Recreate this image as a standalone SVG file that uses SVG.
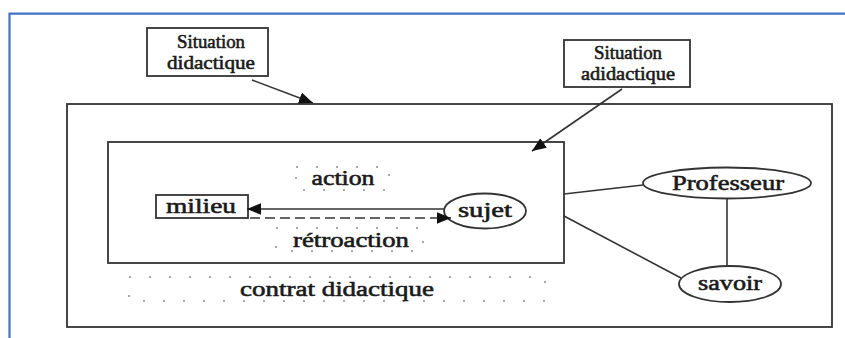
<svg xmlns="http://www.w3.org/2000/svg" width="845" height="338" viewBox="0 0 845 338">
<defs>
<style>
.box{fill:#fff;stroke:#333;stroke-width:1.8}
.dot{fill:none;stroke:#a8a8a8;stroke-width:2;stroke-dasharray:2 18}
.ln{fill:none;stroke:#333;stroke-width:1.6}
.dash{fill:none;stroke:#666;stroke-width:2;stroke-dasharray:10 5}
text{font-family:"Liberation Serif","Times New Roman",serif;font-size:20px;font-weight:normal;fill:#1a1a1a;stroke:#1a1a1a;stroke-width:0.55;text-anchor:middle}
.top{font-size:18px}
</style>
<marker id="ah" viewBox="0 0 12 10" refX="12" refY="5" markerWidth="14" markerHeight="12" markerUnits="userSpaceOnUse" orient="auto">
<path d="M0,0 L12,5 L0,10 Z" fill="#111"/>
</marker>
</defs>
<rect width="845" height="338" fill="#fff"/>
<path d="M9.5,338 V13.7 H845" fill="none" stroke="#4472C4" stroke-width="2.2"/>

<g id="outer"><rect class="box" x="67" y="104" width="765" height="223"/></g>
<g id="inner"><rect class="box" x="108" y="142" width="456" height="121"/></g>

<g id="contrat">
<rect class="dot" x="129" y="277" width="416" height="24"/>
<text x="337" y="296" textLength="194" lengthAdjust="spacingAndGlyphs">contrat didactique</text>
</g>

<g id="action">
<rect class="dot" x="296" y="167" width="93" height="23"/>
<text x="343" y="185" textLength="63" lengthAdjust="spacingAndGlyphs">action</text>
</g>

<g id="retroaction">
<rect class="dot" x="276" y="228" width="147" height="23"/>
<text x="351" y="247" textLength="116" lengthAdjust="spacingAndGlyphs">rétroaction</text>
</g>

<g id="sit-didactique">
<rect class="box" x="147" y="28" width="121" height="48"/>
<text class="top" x="211" y="48" textLength="68" lengthAdjust="spacingAndGlyphs">Situation</text>
<text class="top" x="211" y="69" textLength="88" lengthAdjust="spacingAndGlyphs">didactique</text>
</g>

<g id="sit-adidactique">
<rect class="box" x="564" y="40" width="126" height="47"/>
<text class="top" x="628" y="59" textLength="68" lengthAdjust="spacingAndGlyphs">Situation</text>
<text class="top" x="628" y="80" textLength="94" lengthAdjust="spacingAndGlyphs">adidactique</text>
</g>

<g id="milieu">
<rect class="box" x="156" y="195" width="92" height="23"/>
<text x="201" y="213" textLength="70" lengthAdjust="spacingAndGlyphs">milieu</text>
</g>

<g id="sujet">
<ellipse class="box" cx="485" cy="211" rx="41" ry="17.5"/>
<text x="485" y="217" textLength="54" lengthAdjust="spacingAndGlyphs">sujet</text>
</g>

<g id="professeur">
<ellipse class="box" cx="727" cy="183" rx="84" ry="15.5"/>
<text x="728" y="190" textLength="112" lengthAdjust="spacingAndGlyphs">Professeur</text>
</g>

<g id="savoir">
<ellipse class="box" cx="730" cy="284" rx="51" ry="18"/>
<text x="730" y="290" textLength="64" lengthAdjust="spacingAndGlyphs">savoir</text>
</g>

<g id="connectors">
<line class="ln" x1="252" y1="80" x2="313" y2="103" marker-end="url(#ah)"/>
<line class="ln" x1="622" y1="89" x2="532" y2="151" marker-end="url(#ah)"/>
<line class="ln" x1="444" y1="209" x2="247" y2="209" marker-end="url(#ah)"/>
<line class="dash" x1="250" y1="218" x2="451" y2="218" marker-end="url(#ah)"/>
<line class="ln" x1="564" y1="194" x2="643" y2="185"/>
<line class="ln" x1="564" y1="216" x2="681" y2="278"/>
<line class="ln" x1="727" y1="198.5" x2="727" y2="266"/>
</g>
</svg>
